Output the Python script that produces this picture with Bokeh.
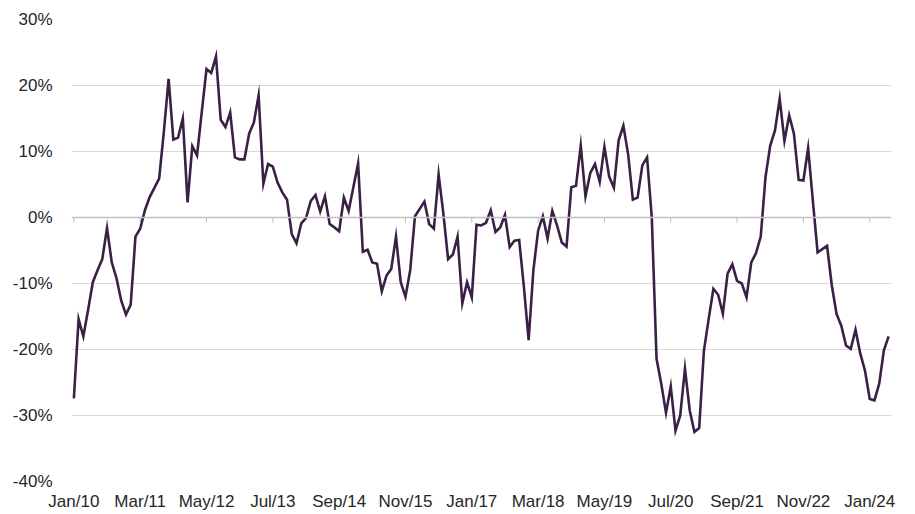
from bokeh.plotting import figure
from bokeh.models import Range1d, FixedTicker, PrintfTickFormatter, Span, ColumnDataSource
from bokeh.embed import file_html
from bokeh.resources import INLINE

# Monthly series, Jan/10 .. May/24 (percent)
values = [
    -27.4, -15.4, -18.0, -14.0, -9.8, -8.0, -6.3, -1.6, -6.8, -9.2, -12.6, -14.7,
    -13.2, -2.9, -1.7, 1.1, 3.1, 4.5, 5.9, 13.0, 21.0, 11.8, 12.1, 15.0,
    2.3, 10.8, 9.4, 16.0, 22.5, 21.9, 24.4, 14.8, 13.7, 15.9, 9.1, 8.8,
    8.8, 12.7, 14.4, 18.5, 5.1, 8.1, 7.7, 5.3, 3.8, 2.7, -2.5, -3.9,
    -0.9, -0.1, 2.5, 3.4, 0.9, 3.2, -1.0, -1.5, -2.1, 3.0, 1.0, 4.6,
    8.2, -5.2, -4.9, -6.8, -7.0, -11.2, -8.8, -7.8, -2.9, -9.8, -12.0, -8.0,
    0.2, 1.3, 2.4, -1.0, -1.7, 6.5, 0.6, -6.3, -5.6, -2.9, -13.0, -9.8,
    -12.1, -1.1, -1.2, -0.8, 1.1, -2.2, -1.5, 0.4, -4.5, -3.5, -3.4, -10.5,
    -18.6, -8.0, -2.0, 0.2, -3.2, 1.0, -1.2, -3.8, -4.4, 4.6, 4.8, 10.9,
    3.2, 6.7, 8.1, 5.4, 10.7, 6.2, 4.5, 11.7, 13.9, 9.6, 2.7, 3.0,
    7.9, 9.1, 0.0, -21.4, -25.2, -29.6, -25.6, -32.3, -30.0, -22.9, -29.2, -32.5,
    -31.9, -20.2, -15.4, -10.8, -11.7, -14.6, -8.5, -7.1, -9.6, -10.0, -12.1, -6.8,
    -5.4, -2.9, 6.1, 10.9, 13.2, 18.0, 11.6, 15.5, 12.7, 5.7, 5.6, 10.5,
    2.5, -5.3, -4.8, -4.3, -10.3, -14.6, -16.4, -19.4, -19.9, -17.0, -20.6, -23.2,
    -27.5, -27.7, -25.2, -20.1, -18.0,
]
months = list(range(len(values)))

tick_months = [0, 14, 28, 42, 56, 70, 84, 98, 112, 126, 140, 154, 168]
tick_labels = ["Jan/10", "Mar/11", "May/12", "Jul/13", "Sep/14", "Nov/15", "Jan/17",
               "Mar/18", "May/19", "Jul/20", "Sep/21", "Nov/22", "Jan/24"]
y_ticks = [-40, -30, -20, -10, 0, 10, 20, 30]

FONT = "Liberation Sans"
TEXT = "#262626"

p = figure(width=915, height=514, output_backend="svg", toolbar_location=None,
           x_range=Range1d(-0.5, 172.6), y_range=Range1d(-40, 30),
           min_border_left=71, min_border_right=24, min_border_top=19, min_border_bottom=33)
p.outline_line_color = None
p.background_fill_color = "white"
p.border_fill_color = "white"

# grid
p.xgrid.grid_line_color = None
p.ygrid.ticker = FixedTicker(ticks=y_ticks)
p.ygrid.grid_line_color = "#d9d9d9"
p.ygrid.grid_line_width = 1

# zero axis line with tick marks
p.add_layout(Span(location=0, dimension="width", line_color="#bfbfbf", line_width=1.5))
tsrc = ColumnDataSource(dict(x=tick_months, y0=[0] * len(tick_months), y1=[-0.8] * len(tick_months)))
p.segment(x0="x", y0="y0", x1="x", y1="y1", source=tsrc, line_color="#bfbfbf", line_width=1)

src = ColumnDataSource(dict(x=months, y=values))
p.line("x", "y", source=src, line_color="#3b2046", line_width=2.6, line_join="miter")

# axes
xa = p.xaxis[0]
xa.ticker = FixedTicker(ticks=tick_months)
xa.major_label_overrides = {m: l for m, l in zip(tick_months, tick_labels)}
xa.axis_line_color = None
xa.major_tick_line_color = None
xa.minor_tick_line_color = None
xa.major_label_standoff = 4
xa.major_label_text_font = FONT
xa.major_label_text_font_size = "17px"
xa.major_label_text_color = TEXT

ya = p.yaxis[0]
ya.ticker = FixedTicker(ticks=y_ticks)
ya.formatter = PrintfTickFormatter(format="%d%%")
ya.axis_line_color = None
ya.major_tick_line_color = None
ya.minor_tick_line_color = None
ya.major_label_standoff = 13
ya.major_label_text_font = FONT
ya.major_label_text_font_size = "17px"
ya.major_label_text_color = TEXT

open("out.html", "w").write(file_html(p, INLINE))
